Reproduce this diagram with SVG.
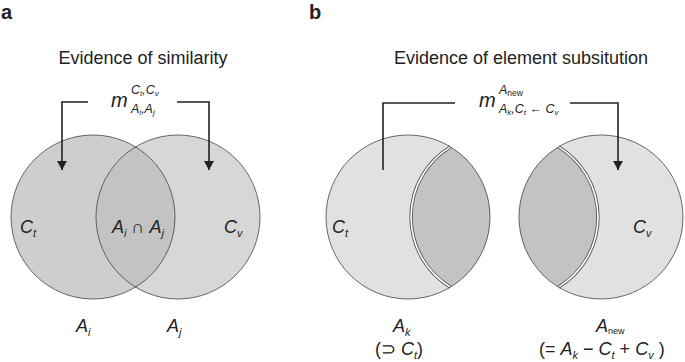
<svg xmlns="http://www.w3.org/2000/svg" width="685" height="362" viewBox="0 0 685 362">
<style>
text{font-family:"Liberation Sans",Arial,sans-serif;fill:#222}
.pl{font-weight:bold;font-size:20px}
.ti{font-size:18px}
.lbl{font-size:18px;font-style:italic}
.m{font-size:20px;font-style:italic}
.sc{font-size:12.5px;font-style:italic}
.out{fill:none;stroke:#444;stroke-width:0.8}
.con{fill:none;stroke:#222;stroke-width:1.6}
</style>
<defs>
<marker id="ah" markerUnits="userSpaceOnUse" markerWidth="10" markerHeight="10" refX="9" refY="5" orient="auto">
<path d="M0,0 L9,5 L0,10 Z" fill="#222"/>
</marker>
</defs>
<rect width="685" height="362" fill="#fff"/>
<text class="pl" x="1" y="19">a</text>
<text class="pl" x="309" y="19">b</text>
<text class="ti" x="143" y="64" text-anchor="middle">Evidence of similarity</text>
<text class="ti" x="521" y="64" text-anchor="middle">Evidence of element subsitution</text>

<g id="circle-Ai">
<circle cx="93" cy="217" r="82" fill="#cecece"/>
</g>
<g id="circle-Aj">
<circle cx="178" cy="217" r="82" fill="#d7d7d7"/>
</g>
<g id="intersection">
<path d="M135.5,146.9 A82,82 0 0 0 135.5,287.1 A82,82 0 0 0 135.5,146.9 Z" fill="#c3c3c3"/>
<circle class="out" cx="93" cy="217" r="82"/>
<circle class="out" cx="178" cy="217" r="82"/>
</g>

<g id="circle-Ak">
<circle cx="408" cy="217" r="82" fill="#e1e1e1"/>
<path d="M450.5,146.9 A82,82 0 0 0 450.5,287.1 A82,82 0 0 0 450.5,146.9 Z" fill="#c3c3c3"/>
<path d="M450.5,146.9 A82,82 0 0 0 450.5,287.1" fill="none" stroke="#555" stroke-width="3.4"/>
<path d="M450.5,146.9 A82,82 0 0 0 450.5,287.1" fill="none" stroke="#fff" stroke-width="1.6"/>
<circle class="out" cx="408" cy="217" r="82"/>
</g>
<g id="circle-Anew">
<circle cx="601" cy="217" r="82" fill="#e1e1e1"/>
<path d="M558.5,146.9 A82,82 0 0 0 558.5,287.1 A82,82 0 0 0 558.5,146.9 Z" fill="#c3c3c3"/>
<path d="M558.5,287.1 A82,82 0 0 0 558.5,146.9" fill="none" stroke="#555" stroke-width="3.4"/>
<path d="M558.5,287.1 A82,82 0 0 0 558.5,146.9" fill="none" stroke="#fff" stroke-width="1.6"/>
<circle class="out" cx="601" cy="217" r="82"/>
</g>

<g id="connectors">
<path class="con" d="M88,102 H62 V170" marker-end="url(#ah)"/>
<path class="con" d="M177,102 H209 V170" marker-end="url(#ah)"/>
<path class="con" d="M455,103 H383 V170"/>
<path class="con" d="M570,103 H618 V170" marker-end="url(#ah)"/>
</g>

<g id="label-m-a">
<text class="m" x="111" y="107">m</text>
<text class="sc" x="131" y="94">C<tspan font-size="8" dy="2">t</tspan><tspan dy="-2">,C</tspan><tspan font-size="8" dy="2">v</tspan></text>
<text class="sc" x="131" y="113">A<tspan font-size="8" dy="2">i</tspan><tspan dy="-2">,A</tspan><tspan font-size="8" dy="2">j</tspan></text>
</g>
<g id="label-m-b">
<text class="m" x="479" y="107">m</text>
<text class="sc" x="499" y="94">A<tspan font-size="8.5" font-style="normal" dy="2">new</tspan></text>
<text class="sc" x="499" y="113">A<tspan font-size="8" dy="2">k</tspan><tspan dy="-2">,C</tspan><tspan font-size="8" dy="2">t</tspan><tspan dy="-2" font-style="normal"> ← </tspan><tspan>C</tspan><tspan font-size="8" dy="2">v</tspan></text>
</g>

<g id="labels-a">
<text class="lbl" x="20" y="233">C<tspan font-size="11" dy="4">t</tspan></text>
<text class="lbl" x="112" y="233">A<tspan font-size="11" dy="4">i</tspan><tspan dy="-4" font-style="normal"> ∩ </tspan>A<tspan font-size="11" dy="4">j</tspan></text>
<text class="lbl" x="224" y="233">C<tspan font-size="11" dy="4">v</tspan></text>
<text class="lbl" x="76" y="332">A<tspan font-size="11" dy="4">i</tspan></text>
<text class="lbl" x="167" y="332">A<tspan font-size="11" dy="4">j</tspan></text>
</g>
<g id="labels-b">
<text class="lbl" x="332" y="233">C<tspan font-size="11" dy="4">t</tspan></text>
<text class="lbl" x="633" y="233">C<tspan font-size="11" dy="4">v</tspan></text>
<text class="lbl" x="393" y="332">A<tspan font-size="11" dy="4">k</tspan></text>
<text class="lbl" x="375" y="355"><tspan font-style="normal">(⊃ </tspan>C<tspan font-size="11" dy="4">t</tspan><tspan dy="-4" font-style="normal">)</tspan></text>
<text class="lbl" x="596" y="332">A<tspan font-size="9" font-style="normal" dy="2">new</tspan></text>
<text class="lbl" x="539" y="355"><tspan font-style="normal">(=  </tspan>A<tspan font-size="11" dy="4">k</tspan><tspan dy="-4" font-style="normal"> − </tspan>C<tspan font-size="11" dy="4">t</tspan><tspan dy="-4" font-style="normal">  +  </tspan>C<tspan font-size="11" dy="4">v</tspan><tspan dy="-4" font-style="normal"> )</tspan></text>
</g>
</svg>
